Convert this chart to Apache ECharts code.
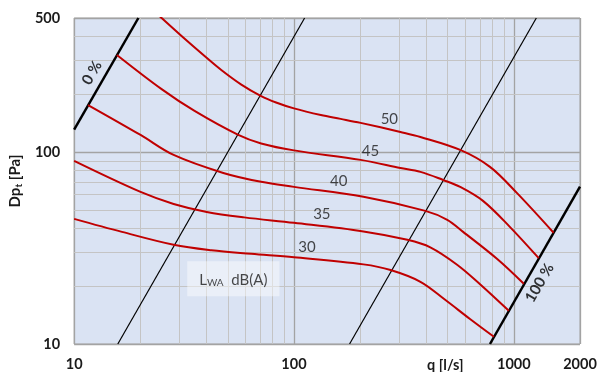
<!DOCTYPE html>
<html><head><meta charset="utf-8">
<script src="https://cdn.jsdelivr.net/npm/echarts@6/dist/echarts.min.js"></script>
<style>html,body{margin:0;padding:0;background:#fff}#c{width:605px;height:372px}</style>
</head><body><div id="c"></div>
<script>
// ---- data (q [l/s], Dpt [Pa]) ----
const xMinor = [20,30,40,50,60,70,80,90,200,300,400,500,600,700,800,900];
const yMinor = [20,30,40,50,60,70,80,90,200,300,400];

const curve50 = [[21.3,592],[25,500],[30.8,403],[39.2,317],[46.7,268],[57.6,225],[70.9,196],[82.9,181.5],[100,169],[132.5,156],[163,149],[201,142],[305,127.4],[376,120],[570,102.7],[779,83.8],[1032,61.3],[1517,38]];
const curve45 = [[15.65,321],[25,213],[35.3,164],[55.8,123],[70.9,111],[100,102.1],[201,91.1],[305,82.7],[376,78.9],[477,71.6],[570,65.9],[724,55.7],[959,40.8],[1298,28]];
const curve40 = [[11.57,176],[20.05,122.9],[28.35,96.7],[47.7,77.9],[70.9,70],[100,65.9],[207,58.5],[396,49.4],[498,44.4],[588,38.4],[838,27.8],[1110,20.6]];
const curve35 = [[10,90],[20.05,62],[28.35,53.7],[40.1,48.8],[59.4,45.7],[100,42.8],[207,38.6],[328,34.9],[417,31.9],[552,25.9],[702,20.5],[949,14.9]];
const curve30 = [[10,44.9],[16.5,38.4],[28.35,32.9],[42.1,30.8],[63.9,29.5],[100,28.3],[207,26],[275,24.3],[376,21.1],[487,17],[632,13.5],[812,10.9]];

const line0 = [[10,131],[19.6,500]];
const lineA = [[15.8,10],[111.8,500]];
const lineB = [[179,10],[1266,500]];
const line100 = [[779,10],[2000,66]];

const curveLabels = [[271.6,148.9,'50'],[223,101.5,'45'],[159.8,70.8,'40'],[133.9,47.7,'35'],[114.5,32.1,'30']];
const lineLabels = [[12.06,258.5,'0 %'],[1311,20.8,'100 %']];
const boxLabel = [[53.0,21.9,'LWA']];

const FONT = 'Lato, "Open Sans", sans-serif';
const chart = echarts.init(document.getElementById('c'));

function curve(data){
  return {type:'line', data, smooth:0.35, symbol:'none', clip:true, silent:true, z:6,
    lineStyle:{color:'#c00000', width:2}};
}
function sys(data, w){
  return {type:'line', data, symbol:'none', clip:true, silent:true, z:5,
    lineStyle:{color:'#000', width:w}};
}

chart.setOption({
  animation:false,
  grid:{left:72, top:18, right:25, bottom:27, show:true, backgroundColor:'#dae3f3', borderColor:'#a6a6a6', borderWidth:1},
  xAxis:{type:'log', logBase:10, min:10, max:2000,
    axisLine:{show:false}, axisTick:{show:false},
    splitLine:{show:true, lineStyle:{color:'#a3a3a3', width:1.3}},
    axisLabel:{margin:13, fontFamily:FONT, fontWeight:'bold', fontSize:14.5, color:'#1a1a1a',
      showMinLabel:true, showMaxLabel:true, formatter:v=>String(Math.round(v))}},
  yAxis:{type:'log', logBase:10, min:10, max:500,
    axisLine:{show:false}, axisTick:{show:false},
    splitLine:{show:true, lineStyle:{color:'#a3a3a3', width:1.3}},
    axisLabel:{margin:14, fontFamily:FONT, fontWeight:'bold', fontSize:14.5, color:'#1a1a1a',
      showMinLabel:true, showMaxLabel:true, formatter:v=>String(Math.round(v))},
    name:'{a|Dp}{b|t}{a| [Pa]}', nameLocation:'middle', nameRotate:90, nameGap:38,
    nameTextStyle:{rich:{a:{fontFamily:FONT, fontWeight:'bold', fontSize:15, color:'#1a1a1a'},
      b:{fontFamily:FONT, fontWeight:'bold', fontSize:10, color:'#1a1a1a', padding:[7,0,0,0]}}}},
  graphic:[{type:'text', left:427, top:358, style:{text:'q [l/s]', font:'bold 14.5px '+FONT, fill:'#1a1a1a'}}],
  series:[
    {type:'line', data:[], silent:true, z:1,
      markLine:{silent:true, symbol:['none','none'], label:{show:false}, animation:false,
        lineStyle:{color:'#c4c4c4', width:1, type:'solid'},
        data:[...xMinor.map(v=>({xAxis:v})), ...yMinor.map(v=>({yAxis:v}))]}},
    sys(line0, 2.5), sys(lineA, 1.2), sys(lineB, 1.2), sys(line100, 2.5),
    curve(curve50), curve(curve45), curve(curve40), curve(curve35), curve(curve30),
    {type:'scatter', data:curveLabels, symbolSize:1, itemStyle:{color:'rgba(0,0,0,0)'}, silent:true, z:8,
      label:{show:true, position:'inside', formatter:p=>p.value[2], fontFamily:FONT, fontSize:15, color:'#1a1a1a'}},
    {type:'scatter', data:lineLabels, symbolSize:1, itemStyle:{color:'rgba(0,0,0,0)'}, silent:true, z:8,
      label:{show:true, position:'inside', rotate:60, formatter:p=>p.value[2], fontFamily:FONT, fontWeight:'bold', fontSize:15, color:'#000'}},
    {type:'scatter', data:boxLabel, symbolSize:1, itemStyle:{color:'rgba(0,0,0,0)'}, silent:true, z:8,
      label:{show:true, position:'inside', formatter:'{l|L}{s|WA}{n|  dB(A)}',
        backgroundColor:'rgba(255,255,255,0.55)', padding:[10,12,8,12],
        rich:{l:{fontFamily:FONT, fontSize:15, color:'#1a1a1a'},
              s:{fontFamily:FONT, fontSize:10, color:'#1a1a1a', padding:[7,0,0,0]},
              n:{fontFamily:FONT, fontSize:15, color:'#1a1a1a'}}}}
  ]
});
</script></body></html>
